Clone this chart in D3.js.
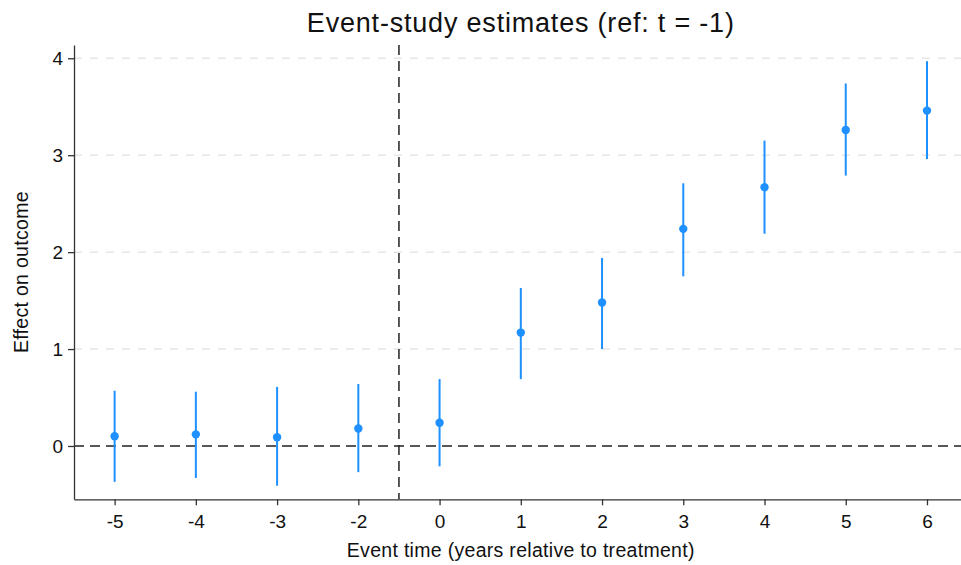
<!DOCTYPE html>
<html>
<head>
<meta charset="UTF-8">
<style>
  body { margin: 0; background: #fff; }
  svg { font-family: "Liberation Sans", Arial, sans-serif; display: block; }
</style>
</head>
<body>
<svg></svg>
<script src="https://d3js.org/d3.v7.min.js"></script>
<script>

let width = 961, height = 565;

// event times (t = -1 is the reference, omitted)
let eventTimes = [-5, -4, -3, -2, 0, 1, 2, 3, 4, 5, 6];
let estimates  = [0.10, 0.12, 0.09, 0.18, 0.24, 1.17, 1.48, 2.24, 2.67, 3.26, 3.46];
let ciLow      = [-0.37, -0.33, -0.41, -0.27, -0.21, 0.69, 1.00, 1.75, 2.19, 2.79, 2.96];
let ciHigh     = [0.57, 0.56, 0.61, 0.64, 0.69, 1.63, 1.94, 2.71, 3.15, 3.74, 3.97];
let yTicks     = [0, 1, 2, 3, 4];

let data = eventTimes.map((t, i) => ({t: t, i: i, est: estimates[i], lo: ciLow[i], hi: ciHigh[i]}));

let plotLeft = 74, plotRight = 967.6, plotTop = 45, plotBottom = 499.3;

let svg = d3.select("svg")
    .attr("width", width)
    .attr("height", height);

// positions are evenly spaced by index
let x = d3.scaleLinear()
    .domain([-0.5, eventTimes.length - 0.5])
    .range([plotLeft, plotRight]);

let y = d3.scaleLinear()
    .domain([-0.55, 4.137])
    .range([plotBottom, plotTop]);

// light gridlines
svg.append("g")
  .selectAll("line")
  .data(yTicks.filter(d => d != 0))
  .enter().append("line")
    .attr("x1", plotLeft).attr("x2", width)
    .attr("y1", d => y(d)).attr("y2", d => y(d))
    .attr("stroke", "#e6e6e6")
    .attr("stroke-width", 1.5)
    .attr("stroke-dasharray", "8,8");

// reference lines
svg.append("line")
    .attr("x1", plotLeft).attr("x2", width)
    .attr("y1", y(0)).attr("y2", y(0))
    .attr("stroke", "#222")
    .attr("stroke-width", 1.5)
    .attr("stroke-dasharray", "10,6");

// between t=-2 and t=0
let vx = (x(3) + x(4)) / 2;
svg.append("line")
    .attr("x1", vx).attr("x2", vx)
    .attr("y1", plotTop).attr("y2", plotBottom)
    .attr("stroke", "#222")
    .attr("stroke-width", 1.5)
    .attr("stroke-dasharray", "10,6");

// axes
let xAxis = d3.axisBottom(x)
    .tickValues(d3.range(eventTimes.length))
    .tickFormat(i => eventTimes[i])
    .tickSize(6)
    .tickSizeOuter(0);

let gx = svg.append("g")
    .attr("transform", `translate(0,${plotBottom})`)
    .call(xAxis);
gx.selectAll("text")
    .attr("font-size", 19)
    .attr("font-family", "Liberation Sans, Arial, sans-serif")
    .attr("fill", "#111")
    .attr("y", 29)
    .attr("dy", null);

let yAxis = d3.axisLeft(y)
    .tickValues(yTicks)
    .tickFormat(d3.format("d"))
    .tickSize(6)
    .tickSizeOuter(0);

let gy = svg.append("g")
    .attr("transform", `translate(${plotLeft},0)`)
    .call(yAxis);
gy.selectAll("text")
    .attr("font-size", 19)
    .attr("font-family", "Liberation Sans, Arial, sans-serif")
    .attr("fill", "#111")
    .attr("x", -11);

svg.selectAll(".domain").attr("stroke", "#333").attr("stroke-width", 1.3);
svg.selectAll(".tick line").attr("stroke", "#333").attr("stroke-width", 1.3);

// confidence intervals
svg.append("g")
  .selectAll("line")
  .data(data)
  .enter().append("line")
    .attr("x1", d => x(d.i)).attr("x2", d => x(d.i))
    .attr("y1", d => y(d.lo)).attr("y2", d => y(d.hi))
    .attr("stroke", "#1e90ff")
    .attr("stroke-width", 2);

// point estimates
svg.append("g")
  .selectAll("circle")
  .data(data)
  .enter().append("circle")
    .attr("cx", d => x(d.i))
    .attr("cy", d => y(d.est))
    .attr("r", 4.2)
    .attr("fill", "#1e90ff");

// titles
svg.append("text")
    .attr("x", (plotLeft + plotRight) / 2)
    .attr("y", 32)
    .attr("text-anchor", "middle")
    .attr("font-size", 27)
    .attr("letter-spacing", 0.8)
    .attr("fill", "#111")
    .text("Event-study estimates (ref: t = -1)");

svg.append("text")
    .attr("x", (plotLeft + plotRight) / 2)
    .attr("y", 557)
    .attr("text-anchor", "middle")
    .attr("font-size", 19.5)
    .attr("letter-spacing", 0.3)
    .attr("fill", "#111")
    .text("Event time (years relative to treatment)");

svg.append("text")
    .attr("transform", `translate(28,${(plotTop + plotBottom) / 2}) rotate(-90)`)
    .attr("text-anchor", "middle")
    .attr("font-size", 19.5)
    .attr("letter-spacing", 0.3)
    .attr("fill", "#111")
    .text("Effect on outcome");

</script>
</body>
</html>
